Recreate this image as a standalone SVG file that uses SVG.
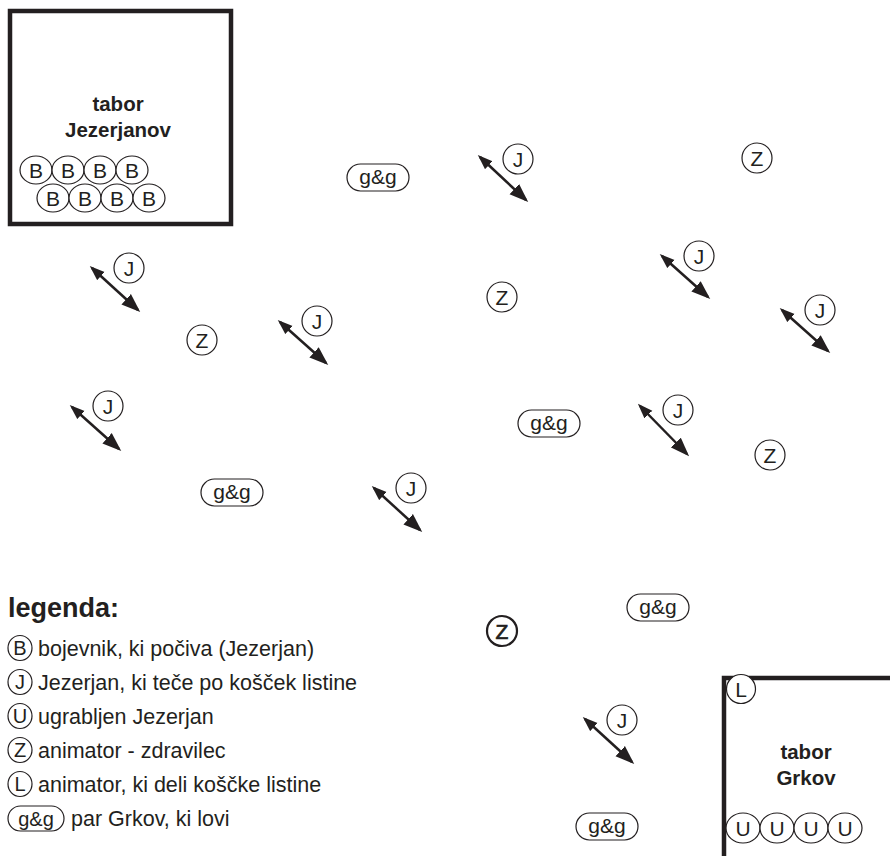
<svg xmlns="http://www.w3.org/2000/svg" width="890" height="856" viewBox="0 0 890 856">
<defs>
<style>
.box{fill:none;stroke:#231f20;stroke-width:4.5}
.c{fill:#fff;stroke:#231f20;stroke-width:1.2}
.cb{fill:#fff;stroke:#231f20;stroke-width:2.2}
.t{font-family:"Liberation Sans",Arial,sans-serif;font-size:21px;fill:#231f20;text-anchor:middle}
.ts{font-family:"Liberation Sans",Arial,sans-serif;font-size:20px;fill:#231f20;text-anchor:middle}
.tb{font-family:"Liberation Sans",Arial,sans-serif;font-size:20.5px;font-weight:bold;fill:#231f20;text-anchor:middle}
.lg{font-family:"Liberation Sans",Arial,sans-serif;font-size:21.5px;fill:#231f20}
.arr{stroke:#231f20;stroke-width:2.5;fill:none;marker-start:url(#hs);marker-end:url(#he)}
</style>
<marker id="hs" markerUnits="userSpaceOnUse" markerWidth="15" markerHeight="12" refX="12" refY="5.5" orient="auto-start-reverse" viewBox="0 0 15 11"><path d="M0,0 L15,5.5 L0,11 z" fill="#231f20"/></marker>
<marker id="he" markerUnits="userSpaceOnUse" markerWidth="19" markerHeight="15" refX="16" refY="7" orient="auto" viewBox="0 0 19 14"><path d="M0,0 L19,7 L0,14 z" fill="#231f20"/></marker>
</defs>
<rect width="890" height="856" fill="#fff"/>

<g id="tabor-jezerjanov">
<rect class="box" x="10" y="11" width="221" height="213"/>
<text class="tb" x="118" y="111">tabor</text>
<text class="tb" x="118" y="137">Jezerjanov</text>
<g id="bojevniki">
<ellipse class="c" cx="36" cy="170" rx="16" ry="14"/><text class="t" x="36" y="177.5">B</text>
<ellipse class="c" cx="68" cy="170" rx="16" ry="14"/><text class="t" x="68" y="177.5">B</text>
<ellipse class="c" cx="100" cy="170" rx="16" ry="14"/><text class="t" x="100" y="177.5">B</text>
<ellipse class="c" cx="132" cy="170" rx="16" ry="14"/><text class="t" x="132" y="177.5">B</text>
<ellipse class="c" cx="53" cy="198" rx="16" ry="14"/><text class="t" x="53" y="205.5">B</text>
<ellipse class="c" cx="85" cy="198" rx="16" ry="14"/><text class="t" x="85" y="205.5">B</text>
<ellipse class="c" cx="117" cy="198" rx="16" ry="14"/><text class="t" x="117" y="205.5">B</text>
<ellipse class="c" cx="149" cy="198" rx="16" ry="14"/><text class="t" x="149" y="205.5">B</text>
</g>
</g>

<g id="tabor-grkov">
<path class="box" d="M724,858 V678 H892"/>
<g id="L"><circle class="c" cx="741" cy="689" r="14.5"/><text class="t" x="741" y="696.5">L</text></g>
<text class="tb" x="806" y="759">tabor</text>
<text class="tb" x="806" y="785">Grkov</text>
<g id="ugrabljeni">
<ellipse class="c" cx="743" cy="828" rx="17" ry="15"/><text class="t" x="743" y="835.5">U</text>
<ellipse class="c" cx="777" cy="828" rx="17" ry="15"/><text class="t" x="777" y="835.5">U</text>
<ellipse class="c" cx="811" cy="828" rx="17" ry="15"/><text class="t" x="811" y="835.5">U</text>
<ellipse class="c" cx="845" cy="828" rx="17" ry="15"/><text class="t" x="845" y="835.5">U</text>
</g>
</g>

<g id="connectors">
<line class="arr" x1="92" y1="268" x2="138" y2="310"/>
<line class="arr" x1="480" y1="157" x2="526" y2="200"/>
<line class="arr" x1="662" y1="256" x2="708" y2="297"/>
<line class="arr" x1="280" y1="322" x2="326" y2="363"/>
<line class="arr" x1="782" y1="310" x2="828" y2="351"/>
<line class="arr" x1="72" y1="407" x2="119" y2="449"/>
<line class="arr" x1="640" y1="406" x2="687" y2="454"/>
<line class="arr" x1="374" y1="488" x2="420" y2="530"/>
<line class="arr" x1="585" y1="719" x2="632" y2="762"/>
</g>

<g id="J1"><circle class="c" cx="129" cy="268" r="15"/><text class="t" x="129" y="275.5">J</text></g>
<g id="J2"><circle class="c" cx="518" cy="159" r="15"/><text class="t" x="518" y="166.5">J</text></g>
<g id="J3"><circle class="c" cx="699" cy="256" r="15"/><text class="t" x="699" y="263.5">J</text></g>
<g id="J4"><circle class="c" cx="317" cy="321" r="15"/><text class="t" x="317" y="328.5">J</text></g>
<g id="J5"><circle class="c" cx="820" cy="310" r="15"/><text class="t" x="820" y="317.5">J</text></g>
<g id="J6"><circle class="c" cx="108" cy="406" r="15"/><text class="t" x="108" y="413.5">J</text></g>
<g id="J7"><circle class="c" cx="678" cy="410" r="15"/><text class="t" x="678" y="417.5">J</text></g>
<g id="J8"><circle class="c" cx="411" cy="488" r="15"/><text class="t" x="411" y="495.5">J</text></g>
<g id="J9"><circle class="c" cx="622" cy="720" r="15"/><text class="t" x="622" y="727.5">J</text></g>

<g id="Z1"><circle class="c" cx="757" cy="158" r="15"/><text class="t" x="757" y="165.5">Z</text></g>
<g id="Z2"><circle class="c" cx="502" cy="297" r="15"/><text class="t" x="502" y="304.5">Z</text></g>
<g id="Z3"><circle class="c" cx="202" cy="340" r="15"/><text class="t" x="202" y="347.5">Z</text></g>
<g id="Z4"><circle class="c" cx="770" cy="455" r="15"/><text class="t" x="770" y="462.5">Z</text></g>
<g id="Z5"><circle class="cb" cx="502" cy="631" r="15"/><text class="t" x="502" y="638.5" style="stroke:#231f20;stroke-width:0.7">Z</text></g>

<g id="gg1"><rect class="c" x="347" y="164" width="62" height="27" rx="13.5"/><text class="t" x="378" y="184">g&amp;g</text></g>
<g id="gg2"><rect class="c" x="518" y="410" width="62" height="27" rx="13.5"/><text class="t" x="549" y="430">g&amp;g</text></g>
<g id="gg3"><rect class="c" x="201" y="479" width="62" height="27" rx="13.5"/><text class="t" x="232" y="499">g&amp;g</text></g>
<g id="gg4"><rect class="c" x="627" y="594" width="62" height="27" rx="13.5"/><text class="t" x="658" y="614">g&amp;g</text></g>
<g id="gg5"><rect class="c" x="576" y="813" width="62" height="27" rx="13.5"/><text class="t" x="607" y="833">g&amp;g</text></g>

<g id="legend">
<text x="8" y="617" style="font-family:'Liberation Sans',Arial,sans-serif;font-size:27px;font-weight:bold;fill:#231f20">legenda:</text>
<ellipse class="c" cx="20" cy="648" rx="12" ry="12.5"/><text class="ts" x="20" y="655">B</text>
<text class="lg" x="38" y="655.5">bojevnik, ki počiva (Jezerjan)</text>
<ellipse class="c" cx="20" cy="682" rx="12" ry="12.5"/><text class="ts" x="20" y="689">J</text>
<text class="lg" x="38" y="689.5">Jezerjan, ki teče po košček listine</text>
<ellipse class="c" cx="20" cy="716" rx="12" ry="12.5"/><text class="ts" x="20" y="723">U</text>
<text class="lg" x="38" y="723.5">ugrabljen Jezerjan</text>
<ellipse class="c" cx="20" cy="750" rx="12" ry="12.5"/><text class="ts" x="20" y="757">Z</text>
<text class="lg" x="38" y="757.5">animator - zdravilec</text>
<ellipse class="c" cx="20" cy="784" rx="12" ry="12.5"/><text class="ts" x="20" y="791">L</text>
<text class="lg" x="38" y="791.5">animator, ki deli koščke listine</text>
<rect class="c" x="8" y="806" width="56" height="25" rx="12.5"/><text class="ts" x="36" y="825.5">g&amp;g</text>
<text class="lg" x="71" y="825.5">par Grkov, ki lovi</text>
</g>
</svg>
